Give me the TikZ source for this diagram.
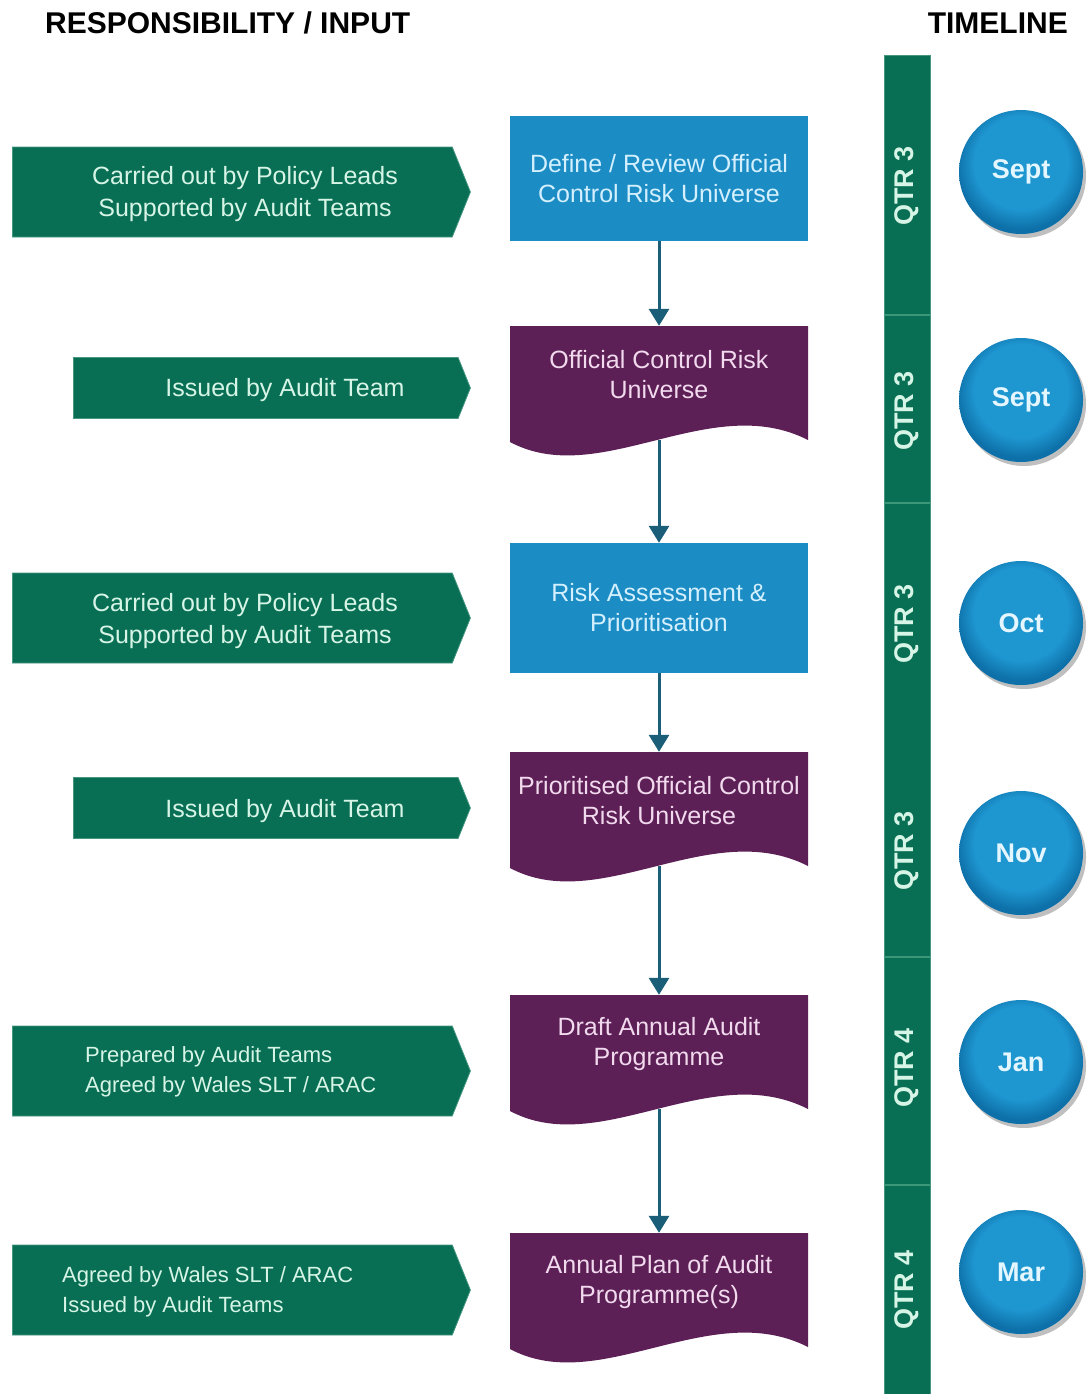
\documentclass[tikz,border=0pt]{standalone}
\usepackage{fontspec}
\setmainfont{Liberation Sans}
\usetikzlibrary{shapes.symbols,shadows,arrows.meta}
\definecolor{dgreen}{RGB}{8,110,84}
\definecolor{sepgreen}{RGB}{60,150,120}
\definecolor{boxblue}{RGB}{27,140,196}
\definecolor{docpurple}{RGB}{92,31,86}
\definecolor{conn}{RGB}{26,94,120}
\definecolor{mint}{RGB}{214,245,230}
\definecolor{paleblue}{RGB}{212,240,255}
\definecolor{palepink}{RGB}{242,218,238}
\definecolor{ballA}{RGB}{30,150,208}
\definecolor{ballB}{RGB}{14,112,168}
\definecolor{balltext}{RGB}{228,246,255}
\pgfdeclareradialshading[ballA,ballB]{ballshade}{\pgfpoint{0bp}{6bp}}{color(0bp)=(ballA);color(19bp)=(ballA);color(26bp)=(ballB);color(50bp)=(ballB)}
\newcommand\docbox[4]{%
  \fill[docpurple] (#2-149,#3) -- (#2+149,#3) -- (#2+149,#3+114)
     .. controls (#2+51,#3+64) and (#2-59,#3+164) .. (#2-149,#3+116) -- cycle;
  \node[dtext] (#1) at (#2,#3+49) {#4};
  \coordinate (#1-bot) at (#2,#3+114);
}
\begin{document}
\begin{tikzpicture}[x=1pt,y=-1pt,
  garrow/.style={shape=signal, signal to=east, signal from=nowhere, signal pointer angle=136,
     fill=dgreen, draw=dgreen!70!mint, line width=0.8, inner sep=0, anchor=west},
  gtext/.style={text=mint, font=\fontsize{25}{32}\selectfont, align=center, inner sep=0},
  gtextsm/.style={text=mint, font=\fontsize{22}{30}\selectfont, align=left, inner sep=0, anchor=west},
  bbox/.style={rectangle, fill=boxblue, minimum width=298, minimum height=125, inner sep=0,
     text=paleblue, font=\fontsize{25}{30}\selectfont, align=center},
  dtext/.style={rectangle, minimum width=298, minimum height=98, inner sep=0,
     text=palepink, font=\fontsize{25}{30}\selectfont, align=center},
  connarrow/.style={draw=conn, line width=3, -{Triangle[width=20,length=17]}},
  head/.style={font=\bfseries\fontsize{30}{32}\selectfont, inner sep=0},
  qtr/.style={rotate=90, text=mint, font=\bfseries\fontsize{27}{30}\selectfont, inner sep=0},
  ball/.style={circle, minimum size=124, inner sep=0, shading=ballshade,
     drop shadow={shadow xshift=3pt, shadow yshift=-4pt, opacity=0.25, fill=black},
     text=balltext, font=\bfseries\fontsize{27}{30}\selectfont},
  sepline/.style={draw=sepgreen, line width=1.5}
]
\useasboundingbox (0,0) rectangle (1089,1394);

% headers
\node[head, anchor=west] (h1) at (45,23) {RESPONSIBILITY / INPUT};
\node[head, anchor=east] (h2) at (1068,23) {TIMELINE};

% green responsibility arrows
\node[garrow, minimum width=458, minimum height=90] (g1) at (12,192) {};
\node[gtext] (t1) at (245,194) {Carried out by Policy Leads\\Supported by Audit Teams};
\node[garrow, minimum width=397, minimum height=61] (g2) at (73,388) {};
\node[gtext] (t2) at (285,390) {Issued by Audit Team};
\node[garrow, minimum width=458, minimum height=90] (g3) at (12,618) {};
\node[gtext] (t3) at (245,621) {Carried out by Policy Leads\\Supported by Audit Teams};
\node[garrow, minimum width=397, minimum height=61] (g4) at (73,808) {};
\node[gtext] (t4) at (285,811) {Issued by Audit Team};
\node[garrow, minimum width=458, minimum height=90] (g5) at (12,1071) {};
\node[gtextsm] (t5) at (85,1072) {Prepared by Audit Teams\\Agreed by Wales SLT / ARAC};
\node[garrow, minimum width=458, minimum height=90] (g6) at (12,1290) {};
\node[gtextsm] (t6) at (62,1292) {Agreed by Wales SLT / ARAC\\Issued by Audit Teams};

% process boxes
\node[bbox] (b1) at (659,178.5) {Define / Review Official\\Control Risk Universe};
\docbox{d2}{659}{326}{Official Control Risk\\Universe}
\node[bbox, minimum height=130] (b3) at (659,608) {Risk Assessment \&\\Prioritisation};
\docbox{d4}{659}{752}{Prioritised Official Control\\Risk Universe}
\docbox{d5}{659}{995}{Draft Annual Audit\\Programme}
\docbox{d6}{659}{1233}{Annual Plan of Audit\\Programme(s)}

% connectors
\draw[connarrow] (b1) -- (d2);
\draw[connarrow] (d2-bot) -- (b3);
\draw[connarrow] (b3) -- (d4);
\draw[connarrow] (d4-bot) -- (d5);
\draw[connarrow] (d5-bot) -- (d6);

% timeline bar
\node[rectangle, fill=dgreen, draw=dgreen!70!mint, line width=0.8, minimum width=46, minimum height=1345, inner sep=0, anchor=north] (bar) at (907,55) {};
\draw[sepline] (884,315) -- (930,315);
\draw[sepline] (884,503) -- (930,503);
\draw[sepline] (884,957) -- (930,957);
\draw[sepline] (884,1185) -- (930,1185);
\node[qtr] (q1) at (907,186) {QTR 3};
\node[qtr] (q2) at (907,411) {QTR 3};
\node[qtr] (q3) at (907,624) {QTR 3};
\node[qtr] (q4) at (907,851) {QTR 3};
\node[qtr] (q5) at (907,1068) {QTR 4};
\node[qtr] (q6) at (907,1290) {QTR 4};

% month circles
\node[ball] (m1) at (1021,172) {Sept};
\node[ball] (m2) at (1021,400) {Sept};
\node[ball] (m3) at (1021,623) {Oct};
\node[ball] (m4) at (1021,853) {Nov};
\node[ball] (m5) at (1021,1062) {Jan};
\node[ball] (m6) at (1021,1272) {Mar};
\end{tikzpicture}
\end{document}
